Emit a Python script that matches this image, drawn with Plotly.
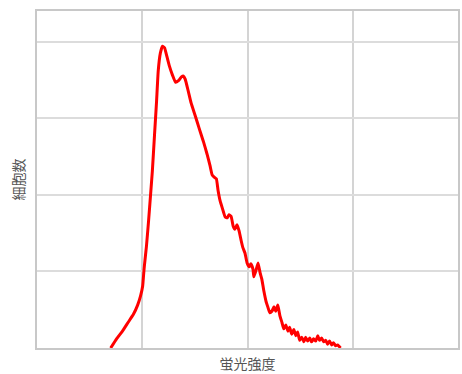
import plotly.graph_objects as go

# Fluorescence intensity (arbitrary units, axis 0-1000)
intensity = [175,189,203,217,229,239,246,251,253,255,260,265,270,274,279,284,288,293,298,303,
             307,314,322,329,336,343,348,352,359,366,376,385,395,404,411,416,421,426,430,435,
             440,447,452,456,461,466,470,475,480,485,489,494,499,504,508,513,515,520,525,530,
             534,539,544,548,553,558,563,567,572,577,582,586,591,596,600,605,610,615,619,624,
             629,634,638,643,648,652,657,662,667,671,676,681,686,690,695,700,704,709,714,721]
# Cell counts
cells = [0,12,22,34,44,56,68,81,94,107,133,166,202,231,277,322,362,385,394,392,
         384,369,356,347,349,354,355,351,336,320,303,287,270,253,238,226,223,221,206,192,
         183,171,170,174,172,159,155,161,153,140,131,124,111,106,110,103,93,101,111,98,
         90,74,61,54,46,48,54,48,56,42,33,25,30,22,27,18,24,16,21,10,
         14,8,14,9,13,8,12,9,16,10,13,8,10,5,9,4,7,3,4,0]

x_label = "蛍光強度"
y_label = "細胞数"

fig = go.Figure()
fig.add_trace(go.Scatter(x=intensity, y=cells, mode="lines",
                         line=dict(color="#ff0000", width=3, shape="spline", smoothing=0.4),
                         showlegend=False, hoverinfo="skip"))

font = dict(family="Noto Sans CJK JP, Noto Sans, sans-serif", size=14, color="#555555")
fig.update_layout(
    width=462, height=374,
    margin=dict(l=37, r=2, t=11, b=26),
    paper_bgcolor="white", plot_bgcolor="white",
    font=font,
    xaxis=dict(range=[0, 1000], dtick=250, tick0=0, showticklabels=False, ticks="",
               showgrid=True, gridcolor="#d4d4d4", gridwidth=1.5, zeroline=False,
               showline=True, linecolor="#c8c8c8", linewidth=1.5, mirror=True,
               title=dict(text=x_label, font=font, standoff=10)),
    yaxis=dict(range=[0, 440], dtick=100, tick0=0, showticklabels=False, ticks="",
               showgrid=True, gridcolor="#dcdcdc", gridwidth=1.5, zeroline=False,
               showline=True, linecolor="#c8c8c8", linewidth=1.5, mirror=True,
               title=dict(text=y_label, font=font, standoff=7)),
)
fig.write_html("out.html", config={"displayModeBar": False},
               post_script="document.body.style.margin='0';document.body.style.overflow='hidden';")
